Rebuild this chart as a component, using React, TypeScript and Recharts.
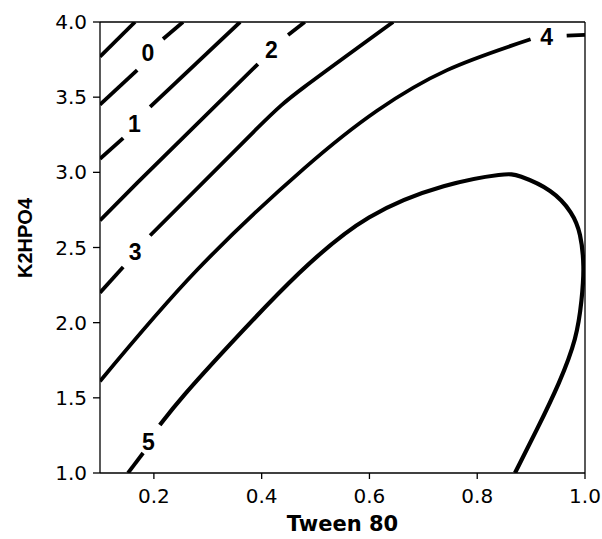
import React from "react";
import {
  ComposedChart,
  Line,
  Scatter,
  XAxis,
  YAxis,
  ReferenceLine,
} from "recharts";

// Axis ticks
const xTicks = [0.2, 0.4, 0.6, 0.8, 1.0];
const yTicks = [1.0, 1.5, 2.0, 2.5, 3.0, 3.5, 4.0];

// Contour segments (gaps where inline labels sit)
const contourM1 = [
  { x: 0.1, y: 3.77 },
  { x: 0.165, y: 4.0 },
];
const contour0a = [
  { x: 0.1, y: 3.45 },
  { x: 0.169, y: 3.68 },
];
const contour0b = [
  { x: 0.217, y: 3.887 },
  { x: 0.254, y: 4.0 },
];
const contour1a = [
  { x: 0.1, y: 3.09 },
  { x: 0.143, y: 3.228 },
];
const contour1b = [
  { x: 0.193, y: 3.435 },
  { x: 0.36, y: 4.0 },
];
const contour2a = [
  { x: 0.1, y: 2.68 },
  { x: 0.169, y: 2.93 },
  { x: 0.393, y: 3.72 },
];
const contour2b = [
  { x: 0.449, y: 3.914 },
  { x: 0.48, y: 4.0 },
];
const contour3a = [
  { x: 0.1, y: 2.2 },
  { x: 0.143, y: 2.37 },
];
const contour3b = [
  { x: 0.193, y: 2.58 },
  { x: 0.388, y: 3.28 },
  { x: 0.48, y: 3.57 },
  { x: 0.644, y: 4.0 },
];
const contour4a = [
  { x: 0.1, y: 1.61 },
  { x: 0.28, y: 2.35 },
  { x: 0.48, y: 3.03 },
  { x: 0.614, y: 3.41 },
  { x: 0.744, y: 3.68 },
  { x: 0.899, y: 3.885 },
];
const contour4b = [
  { x: 0.966, y: 3.91 },
  { x: 1.0, y: 3.915 },
];
const contour5a = [
  { x: 0.152, y: 1.0 },
  { x: 0.18, y: 1.133 },
];
const contour5b = [
  { x: 0.211, y: 1.319 },
  { x: 0.248, y: 1.49 },
  { x: 0.336, y: 1.838 },
  { x: 0.471, y: 2.35 },
  { x: 0.595, y: 2.73 },
  { x: 0.744, y: 2.93 },
  { x: 0.855, y: 2.995 },
  { x: 0.874, y: 2.985 },
  { x: 0.94, y: 2.885 },
  { x: 0.977, y: 2.73 },
  { x: 0.992, y: 2.6 },
  { x: 0.999, y: 2.37 },
  { x: 0.994, y: 2.15 },
  { x: 0.985, y: 1.9 },
  { x: 0.953, y: 1.6 },
  { x: 0.911, y: 1.29 },
  { x: 0.87, y: 1.0 },
];

// Inline contour labels
const contourLabels = [
  { x: 0.189, y: 3.794, text: "0" },
  { x: 0.164, y: 3.32, text: "1" },
  { x: 0.418, y: 3.814, text: "2" },
  { x: 0.165, y: 2.472, text: "3" },
  { x: 0.929, y: 3.9, text: "4" },
  { x: 0.19, y: 1.208, text: "5" },
];

const straightSegments = [
  contourM1,
  contour0a,
  contour0b,
  contour1a,
  contour1b,
  contour2a,
  contour2b,
  contour3a,
  contour4b,
  contour5a,
];
const curvedSegments = [contour3b, contour4a];

const tickStyle = {
  fontFamily: "DejaVu Sans",
  fontSize: 20,
  fill: "#000",
};

const LabelShape = (props: any) => {
  const { cx, cy, payload } = props;
  return (
    <text
      x={cx}
      y={cy}
      textAnchor="middle"
      dominantBaseline="central"
      fontFamily="Liberation Sans, Arial"
      fontWeight="bold"
      fontSize={23}
      fill="#000"
    >
      {payload.text}
    </text>
  );
};

export default function App() {
  return (
    <div
      style={{
        position: "absolute",
        left: 0,
        top: 0,
        width: 602,
        height: 539,
        background: "#fff",
      }}
    >
      <ComposedChart
        width={602}
        height={539}
        margin={{ top: 22, right: 17, bottom: 0, left: 0 }}
      >
        <XAxis
          type="number"
          dataKey="x"
          domain={[0.1, 1.0]}
          ticks={xTicks}
          allowDataOverflow
          tickFormatter={(v: number) => v.toFixed(1)}
          tick={tickStyle}
          tickSize={6}
          tickMargin={10}
          height={66}
          axisLine={{ stroke: "#000", strokeWidth: 1.3 }}
          tickLine={{ stroke: "#000", strokeWidth: 1.3 }}
          label={{
            content: (p: any) => {
              const vb = p.viewBox || { x: 100, y: 473, width: 485 };
              return (
                <text
                  x={vb.x + vb.width / 2}
                  y={vb.y + 58}
                  textAnchor="middle"
                  fontFamily="DejaVu Sans"
                  fontWeight="bold"
                  fontSize={21}
                  fill="#000"
                >
                  Tween 80
                </text>
              );
            },
          }}
        />
        <YAxis
          type="number"
          dataKey="y"
          domain={[1.0, 4.0]}
          ticks={yTicks}
          allowDataOverflow
          tickFormatter={(v: number) => v.toFixed(1)}
          tick={tickStyle}
          tickSize={7}
          tickMargin={6}
          width={100}
          axisLine={{ stroke: "#000", strokeWidth: 1.3 }}
          tickLine={{ stroke: "#000", strokeWidth: 1.3 }}
          label={{
            content: (p: any) => {
              const vb = p.viewBox || { x: 0, y: 22, height: 451 };
              const cx = vb.x + 32;
              const cy = vb.y + vb.height / 2 - 9.5;
              return (
                <text
                  x={cx}
                  y={cy}
                  transform={`rotate(-90 ${cx} ${cy})`}
                  textAnchor="middle"
                  fontFamily="Liberation Sans, Arial"
                  fontWeight="bold"
                  fontSize={20}
                  fill="#000"
                >
                  K2HPO4
                </text>
              );
            },
          }}
        />
        <ReferenceLine y={4.0} stroke="#000" strokeWidth={1.3} />
        <ReferenceLine x={1.0} stroke="#000" strokeWidth={1.3} />
        {straightSegments.map((seg, i) => (
          <Line
            key={`s${i}`}
            data={seg}
            dataKey="y"
            type="linear"
            stroke="#000"
            strokeWidth={3.8}
            dot={false}
            activeDot={false}
            isAnimationActive={false}
          />
        ))}
        {curvedSegments.map((seg, i) => (
          <Line
            key={`c${i}`}
            data={seg}
            dataKey="y"
            type="natural"
            stroke="#000"
            strokeWidth={3.8}
            dot={false}
            activeDot={false}
            isAnimationActive={false}
          />
        ))}
        <Line
          data={contour5b}
          dataKey="y"
          type="basis"
          stroke="#000"
          strokeWidth={4.2}
          strokeLinejoin="round"
          dot={false}
          activeDot={false}
          isAnimationActive={false}
        />
        <Scatter
          data={contourLabels}
          dataKey="y"
          shape={LabelShape}
          isAnimationActive={false}
        />
      </ComposedChart>
    </div>
  );
}
